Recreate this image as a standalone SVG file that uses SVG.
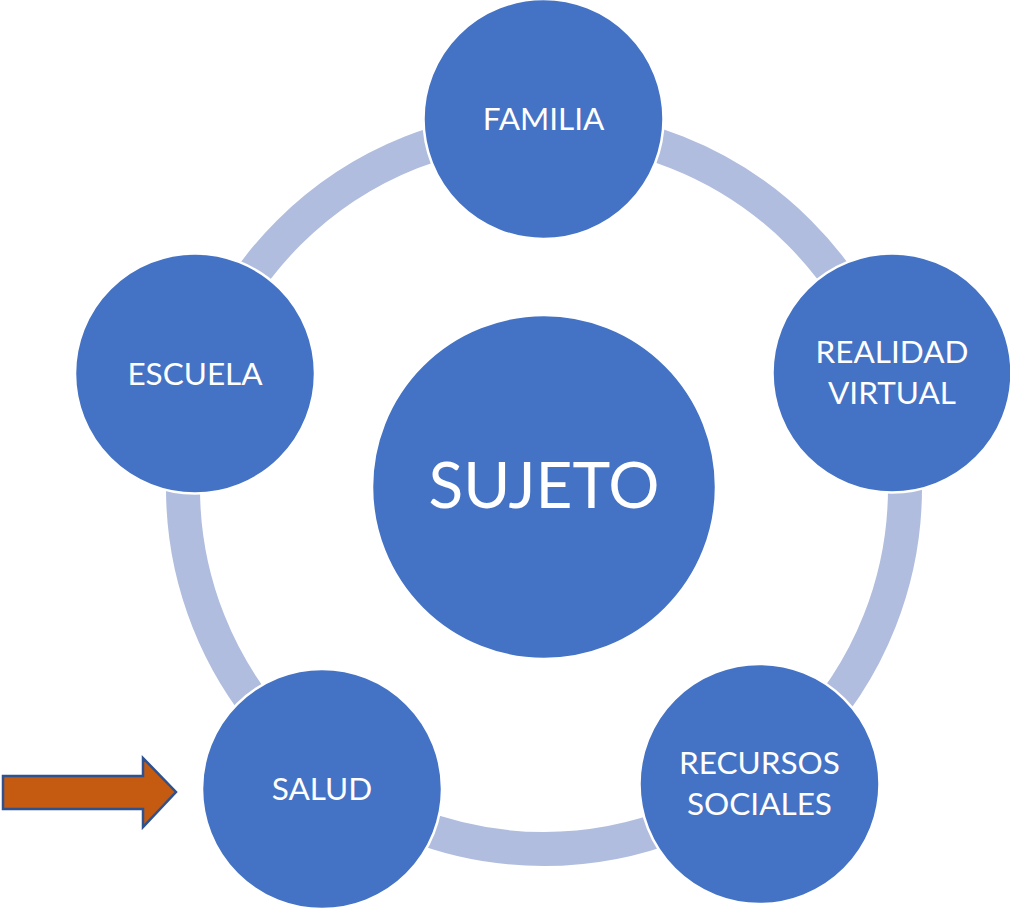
<svg xmlns="http://www.w3.org/2000/svg" width="1010" height="908" viewBox="0 0 1010 908">
  <style>
    .node { fill: #4472C4; stroke: #FFFFFF; stroke-width: 2.5; }
    .lbl { fill: #FFFFFF; font-family: Lato, "Open Sans", "Liberation Sans", sans-serif; font-size: 31.5px; text-anchor: middle; }
    .big { font-size: 64px; }
  </style>
  <rect width="1010" height="908" fill="#FFFFFF"/>
  <g id="connectors">
    <circle cx="544" cy="488" r="361" fill="none" stroke="#B0BDDF" stroke-width="34"/>
  </g>
  <g id="sujeto">
    <circle class="node" cx="544" cy="487" r="172"/>
    <text class="lbl big" x="544" y="508">SUJETO</text>
  </g>
  <g id="familia">
    <circle class="node" cx="543.5" cy="119" r="120"/>
    <text class="lbl" x="543.5" y="130">FAMILIA</text>
  </g>
  <g id="realidad-virtual">
    <circle class="node" cx="892" cy="373" r="119.5"/>
    <text class="lbl" x="892" y="363">REALIDAD</text>
    <text class="lbl" x="892" y="404">VIRTUAL</text>
  </g>
  <g id="recursos-sociales">
    <circle class="node" cx="759.5" cy="784" r="120"/>
    <text class="lbl" x="759.5" y="774">RECURSOS</text>
    <text class="lbl" x="759.5" y="815">SOCIALES</text>
  </g>
  <g id="salud">
    <circle class="node" cx="322" cy="789" r="120"/>
    <text class="lbl" x="322" y="800">SALUD</text>
  </g>
  <g id="escuela">
    <circle class="node" cx="195" cy="373.5" r="120"/>
    <text class="lbl" x="195" y="384.5">ESCUELA</text>
  </g>
  <g id="arrow">
    <polygon points="3,776 143,776 143,758 176,792 143,827 143,809 3,809" fill="#C55A11" stroke="#2F528F" stroke-width="2.5" stroke-linejoin="miter"/>
  </g>
</svg>
